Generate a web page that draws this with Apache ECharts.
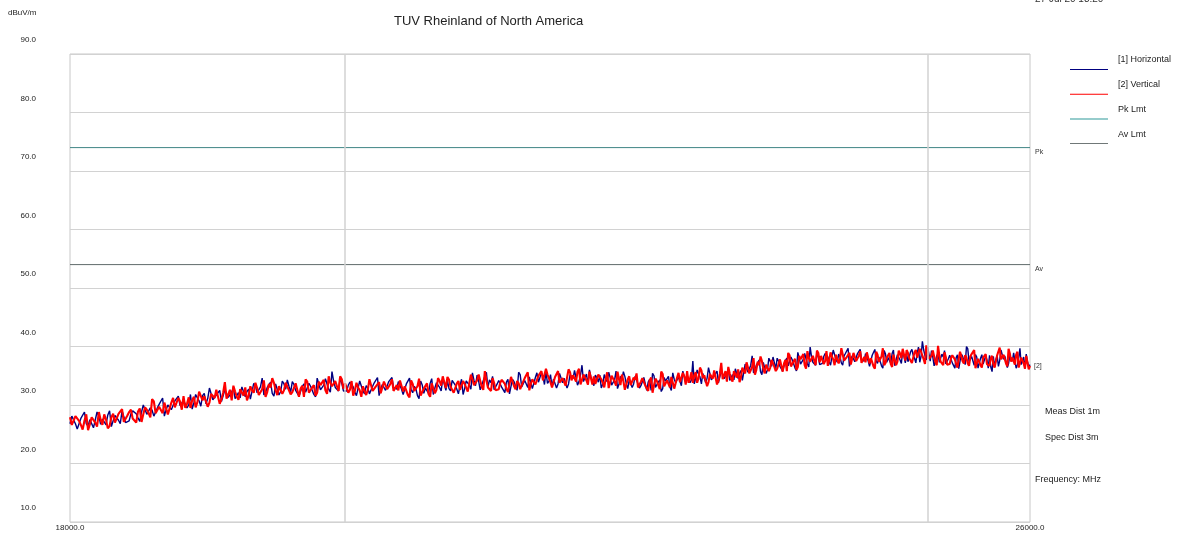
<!DOCTYPE html>
<html>
<head>
<meta charset="utf-8">
<script src="https://cdn.jsdelivr.net/npm/echarts@6/dist/echarts.min.js"></script>
<style>
html,body{margin:0;padding:0;background:#fff;}
#chart{width:1180px;height:533px;}
</style>
</head>
<body>
<div id="chart"></div>
<script>
// ---- data ----
const freqStart = 18000;      // MHz
const freqStop = 26000;       // MHz
const freqStep = 12.5;        // MHz sweep step
const yTicks = [10, 20, 30, 40, 50, 60, 70, 80, 90];
const xTickLabels = [18000, 26000];
const xGridFreqs = [20000, 25000];
const pkLimit = [74, 74];
const avLimit = [54, 54];

const horizontalVals = [
26.8,28.1,28.2,26.8,25.9,25.8,27.7,28.0,28.8,26.8,26.4,27.5,27.3,26.1,25.8,28.8,28.1,26.7,27.6,27.5,26.6,28.3,29.0,26.3,27.3,28.2,28.3,27.4,26.8,29.0,29.0,27.0,
27.0,27.3,28.5,29.0,29.2,28.5,27.8,27.2,28.8,30.0,30.1,28.4,28.1,29.5,29.1,28.1,27.9,29.5,30.1,30.4,31.2,28.1,29.2,30.0,30.1,29.2,29.0,30.7,31.0,31.5,29.9,29.6,
30.8,31.0,29.5,30.0,31.8,29.3,30.4,31.8,31.2,30.7,29.8,31.6,32.0,30.2,31.1,32.9,33.0,30.9,30.8,31.7,31.7,32.5,30.6,30.5,32.6,32.3,31.3,31.5,32.2,33.0,31.1,31.0,
32.1,31.2,33.1,32.9,31.4,32.3,32.7,31.0,30.8,33.7,33.3,32.1,32.2,33.1,34.6,31.7,32.1,33.0,33.2,33.9,32.0,31.5,33.6,33.3,31.7,32.3,34.1,33.6,32.7,34.3,33.2,32.2,
34.0,33.5,32.5,32.3,31.5,31.3,33.2,33.6,32.2,32.4,33.7,33.2,33.1,31.8,31.4,34.6,33.6,32.6,32.9,33.4,34.5,34.2,32.7,32.2,35.7,34.1,33.0,33.2,32.4,34.6,33.7,32.4,
32.1,32.4,33.4,33.9,33.8,33.1,32.2,31.6,32.9,34.1,34.1,32.4,31.9,33.3,32.9,31.9,31.6,33.2,33.8,34.1,34.7,31.6,32.7,33.5,33.4,32.5,32.3,34.0,34.2,34.7,33.0,32.7,
32.7,34.0,34.1,32.7,31.8,31.7,33.6,33.9,34.6,32.6,32.1,33.2,32.8,31.6,31.1,34.1,33.4,32.0,32.9,32.8,32.0,33.7,34.5,31.8,32.9,33.8,33.9,33.0,32.4,34.6,34.5,32.5,
34.1,32.8,32.4,34.2,34.4,33.4,32.7,31.9,33.3,34.4,31.8,32.8,34.1,33.9,33.4,32.7,35.5,34.2,33.3,35.1,34.1,32.6,32.7,34.2,34.5,35.6,33.0,34.3,33.8,34.9,32.6,32.9,
33.6,34.2,34.5,33.0,32.7,32.1,33.9,34.4,31.9,33.2,34.4,34.0,33.2,32.5,35.6,35.2,33.1,33.2,34.2,34.0,33.0,34.8,34.7,32.8,32.9,34.7,35.5,33.9,34.2,35.5,34.9,33.5,
35.7,33.7,34.1,35.2,33.1,34.4,34.7,32.9,33.6,35.4,35.1,33.8,34.6,34.9,32.9,33.6,35.2,35.0,34.5,35.9,36.0,33.4,34.0,35.1,36.8,34.0,34.0,35.3,33.5,36.0,34.8,33.9,
33.3,35.1,34.7,33.9,35.1,32.9,33.6,35.2,34.4,34.0,35.6,34.7,33.4,33.2,34.3,35.8,32.8,33.6,34.9,34.3,35.7,34.9,33.6,32.8,34.3,34.6,33.0,33.6,34.9,35.1,33.6,32.9,
33.3,33.1,34.7,34.6,32.5,33.9,34.4,32.5,35.4,35.0,33.0,33.3,33.9,34.3,32.3,32.8,34.7,34.1,34.1,34.9,33.1,32.5,35.5,34.4,33.8,33.5,34.8,35.0,33.3,35.8,35.5,33.9,
35.1,35.3,33.8,34.3,37.5,33.6,34.6,36.0,35.3,34.8,33.6,35.4,35.6,33.8,34.6,36.4,36.4,34.3,34.1,35.0,35.0,35.8,33.8,33.7,35.9,35.6,34.5,34.7,35.4,36.2,34.2,34.1,
35.2,34.3,36.2,36.0,34.5,35.4,35.9,34.2,34.1,37.0,36.8,35.6,35.9,36.8,38.4,35.5,35.9,36.8,37.0,37.7,35.7,35.2,37.3,37.0,35.4,36.0,38.0,37.5,36.6,38.2,37.2,36.2,
38.0,37.5,36.6,36.4,35.8,35.6,37.6,38.0,36.7,36.9,38.2,37.7,37.6,36.3,35.8,39.0,38.0,37.0,37.3,37.8,38.8,38.5,37.0,36.5,39.9,38.3,37.3,37.5,36.8,39.0,38.2,36.9,
36.8,37.1,38.3,38.8,38.9,38.2,37.4,36.8,38.2,39.4,39.5,37.8,37.3,38.7,38.2,37.2,36.8,38.4,38.8,39.1,39.7,36.6,37.6,38.4,38.3,37.4,37.1,38.8,39.0,39.5,37.8,37.5,
37.5,38.8,38.9,37.5,36.6,36.5,38.5,38.8,39.5,37.5,37.1,38.2,37.9,36.7,36.3,39.3,38.7,37.3,38.1,38.0,37.1,38.8,39.4,36.7,37.7,38.6,38.6,37.7,37.1,39.3,39.2,37.2,
38.7,37.4,37.3,39.1,39.5,38.5,38.0,37.2,38.8,39.9,37.3,38.3,40.9,39.4,38.4,37.7,40.0,38.7,37.5,39.3,38.2,36.7,36.9,38.4,38.8,37.3,37.4,38.7,38.2,39.3,37.0,37.3,
37.9,38.5,38.7,37.2,36.9,36.3,38.1,38.6,36.2,37.5,38.7,38.3,37.6,36.9,40.0,39.6,37.4,37.5,38.3,38.1,36.8,38.6,38.2,36.3,36.2,38.0,38.6,37.0,37.1,38.4,37.7,36.3,
38.5,36.5,35.7,38.3,36.5,37.8,38.4,36.6,37.6,39.4,39.1,37.8,38.4,38.7,36.4,37.1,38.4,38.2,37.5,38.9,38.9,36.3,36.9,38.0,39.7,36.9,36.9,38.2,36.2,38.7,37.4,36.5,
36.9
];

const verticalVals = [
27.9,26.6,26.3,28.1,28.3,27.3,26.6,25.8,27.3,28.4,25.7,26.7,27.9,27.7,27.0,26.3,28.8,27.5,26.6,28.4,27.5,26.0,26.4,27.9,28.5,27.0,27.2,28.5,28.2,29.3,27.1,27.4,
28.2,28.8,29.2,27.7,27.6,27.0,28.9,29.4,27.1,28.4,29.6,29.2,28.6,27.9,31.0,30.6,28.6,28.7,29.7,29.5,28.6,30.4,30.3,28.4,28.6,30.4,31.2,29.6,29.9,31.2,30.6,29.2,
31.5,29.5,30.2,31.3,29.5,30.8,31.4,29.6,30.5,32.3,32.1,30.8,31.5,31.8,29.7,30.4,31.9,31.7,31.2,32.6,32.8,30.2,31.0,32.1,33.9,31.1,31.3,32.6,30.8,33.3,32.3,31.4,
30.9,32.7,32.4,31.6,33.0,30.8,31.6,33.2,32.5,32.1,33.8,32.9,31.7,31.5,32.7,34.2,31.4,32.2,33.6,33.0,34.6,33.8,32.5,31.7,33.2,33.5,31.9,32.5,33.8,34.0,32.5,31.8,
32.2,32.0,33.7,33.6,31.4,32.8,33.3,31.4,34.4,34.0,32.1,32.4,33.0,33.4,31.6,32.1,34.0,33.4,33.5,34.3,32.5,31.9,34.9,33.8,33.2,32.9,34.1,34.3,32.4,34.9,34.4,32.8,
33.7,33.9,32.1,32.6,34.1,31.6,32.4,33.8,33.0,32.5,31.4,33.2,33.5,31.7,32.6,34.4,34.5,32.4,32.3,33.2,33.1,33.9,32.0,31.9,34.0,33.7,32.7,32.9,33.6,34.4,32.4,32.3,
33.4,32.5,34.2,34.0,32.3,33.2,33.4,31.7,31.3,34.2,33.6,32.4,32.3,33.2,34.5,31.6,31.9,32.8,33.0,33.7,31.9,31.4,33.7,33.4,32.0,32.6,34.6,34.1,33.3,34.9,33.9,32.9,
34.8,34.3,33.1,32.9,32.1,31.9,33.7,34.1,32.6,32.8,34.1,33.6,33.6,32.3,32.0,35.2,34.4,33.4,33.7,34.2,35.2,34.9,33.1,32.6,35.8,34.2,33.0,33.2,32.4,34.6,33.8,32.5,
32.4,32.7,33.8,34.3,34.3,33.6,32.8,32.2,33.6,34.8,34.9,33.2,32.7,34.1,33.7,32.7,32.4,34.0,34.6,34.9,35.6,32.5,33.6,34.4,34.4,33.5,33.3,35.0,35.3,35.8,34.2,33.9,
36.2,35.2,35.3,33.9,33.0,32.9,34.8,35.1,35.8,33.8,33.5,34.6,34.5,33.3,33.1,36.1,35.6,34.2,35.1,35.0,34.0,35.7,36.2,33.5,34.3,35.2,35.1,34.2,33.5,35.7,35.5,33.5,
34.9,33.6,33.4,35.2,35.4,34.4,33.8,33.0,34.5,35.6,32.9,33.9,35.0,34.8,34.0,33.3,35.7,34.4,33.4,35.2,34.1,32.6,32.9,34.4,34.9,33.4,33.4,34.7,34.3,35.4,33.0,33.3,
34.0,34.6,34.8,33.3,33.0,32.4,34.2,34.7,32.1,33.4,34.5,34.1,33.4,32.7,35.7,35.3,33.2,33.3,34.2,34.0,33.0,34.8,34.7,32.8,32.9,34.7,35.5,33.9,34.2,35.5,34.9,33.5,
35.8,33.8,34.5,35.6,33.8,35.1,35.6,33.8,34.6,36.4,35.9,34.6,35.1,35.4,33.2,33.9,35.3,35.1,34.5,35.9,36.1,33.5,34.2,35.3,37.2,34.4,34.5,35.8,34.0,36.5,35.4,34.5,
34.0,35.8,35.5,34.7,36.1,33.9,34.8,36.4,35.8,35.4,37.3,36.4,35.4,35.2,36.5,38.0,35.2,36.0,37.4,36.8,38.3,37.5,36.2,35.4,36.9,37.2,35.8,36.4,37.7,37.9,36.5,35.8,
36.2,36.0,37.8,37.7,35.7,37.1,37.7,35.8,38.9,38.5,36.6,36.9,37.5,37.9,36.0,36.5,38.4,37.8,37.9,38.7,36.8,36.2,39.2,38.1,37.4,37.1,38.4,38.6,36.8,39.3,38.9,37.3,
38.4,38.6,37.0,37.5,39.2,36.7,37.6,39.0,38.3,37.8,36.8,38.6,38.9,37.1,37.9,39.7,39.7,37.6,37.3,38.2,38.1,38.9,36.9,36.8,38.9,38.6,37.5,37.7,38.4,39.2,37.2,37.1,
38.2,37.3,39.0,38.8,37.1,38.0,38.3,36.6,36.2,39.1,38.6,37.4,37.4,38.3,39.7,36.8,37.2,38.1,38.2,38.9,37.0,36.5,38.6,38.3,36.8,37.4,39.3,38.8,38.0,39.6,38.6,37.6,
39.4,38.9,38.0,37.8,37.2,37.0,39.0,39.4,38.1,38.3,39.6,39.1,39.1,37.8,37.0,40.2,38.9,37.9,37.9,38.4,39.3,39.0,37.3,36.8,40.1,38.5,37.4,37.6,36.8,39.0,38.2,36.9,
36.7,37.0,38.0,38.5,38.5,37.8,37.0,36.4,37.9,39.1,39.2,37.5,37.1,38.5,38.1,37.1,36.7,38.3,38.7,39.0,39.4,36.3,37.1,37.9,37.7,36.8,36.4,38.1,38.2,38.7,37.0,36.7,
36.7,38.0,38.4,37.0,36.4,36.3,38.5,38.8,39.8,37.8,37.5,38.6,38.3,37.1,36.6,39.6,38.8,37.4,38.1,38.0,36.9,38.6,39.1,36.4,37.2,38.1,38.0,37.1,36.2,38.4,38.1,36.1,
36.7
];

// ---- build ----
const freqs = horizontalVals.map((_, i) => freqStart + i * freqStep);
const hData = horizontalVals.map((v, i) => [freqs[i], v]);
const vData = verticalVals.map((v, i) => [freqs[i], v]);
const pkData = [[freqStart, pkLimit[0]], [freqStop, pkLimit[1]]];
const avData = [[freqStart, avLimit[0]], [freqStop, avLimit[1]]];

const FONT = 'Liberation Sans, Arial, sans-serif';
const legendIcon = 'path://M0,0L38,0L38,0Z M0,19L38,19L38,20L0,20Z';

const chart = echarts.init(document.getElementById('chart'), null, {renderer: 'canvas'});
chart.setOption({
  animation: false,
  backgroundColor: '#ffffff',
  textStyle: {fontFamily: FONT},
  title: {
    text: 'TUV Rheinland of North America',
    left: 389, top: 10,
    textStyle: {fontSize: 13, fontWeight: 'normal', color: '#222', fontFamily: FONT}
  },
  legend: {
    orient: 'vertical',
    left: 1065, top: 45,
    itemWidth: 38, itemHeight: 20, itemGap: 4.7,
    selectedMode: false,
    itemStyle: {borderWidth: 0},
    textStyle: {fontSize: 9, color: '#222', padding: [0, 0, 0, 5], fontFamily: FONT},
    data: [
      {name: '[1] Horizontal', icon: legendIcon},
      {name: '[2] Vertical', icon: legendIcon},
      {name: 'Pk Lmt', icon: legendIcon},
      {name: 'Av Lmt', icon: legendIcon}
    ]
  },
  grid: {
    left: 70, right: 150, top: 54, bottom: 11,
    show: true, borderColor: '#c8c8c8', borderWidth: 1, backgroundColor: 'transparent'
  },
  xAxis: {
    type: 'log',
    min: freqStart, max: freqStop,
    axisLine: {show: false},
    axisTick: {show: false},
    splitLine: {show: false},
    minorTick: {show: false},
    axisLabel: {
      show: true, margin: 2, fontSize: 8, color: '#222', fontFamily: FONT,
      showMinLabel: true, showMaxLabel: true, hideOverlap: false,
      formatter: function (v) {
        for (const t of xTickLabels) { if (Math.abs(v - t) < 1) return t.toFixed(1); }
        return '';
      }
    }
  },
  yAxis: {
    type: 'value',
    min: yTicks[0], max: yTicks[yTicks.length - 1], interval: 10,
    axisLine: {show: false},
    axisTick: {show: false},
    splitLine: {show: true, lineStyle: {color: '#d2d2d2', width: 1}},
    axisLabel: {
      margin: 34, fontSize: 8, color: '#222', fontFamily: FONT,
      verticalAlign: 'bottom', padding: [0, 0, 10, 0],
      formatter: function (v) { return v.toFixed(1); }
    }
  },
  graphic: [
    {type: 'text', left: 8, top: 9, style: {text: 'dBuV/m', fontSize: 8, fill: '#222', fontFamily: FONT}},
    {type: 'text', left: 1035, top: -6, style: {text: '27 Jul 20 18:20 --', fontSize: 10, fill: '#333', fontFamily: FONT}},
    {type: 'text', left: 1045, top: 407, style: {text: 'Meas Dist 1m', fontSize: 9, fill: '#222', fontFamily: FONT}},
    {type: 'text', left: 1045, top: 433, style: {text: 'Spec Dist 3m', fontSize: 9, fill: '#222', fontFamily: FONT}},
    {type: 'text', left: 1035, top: 475, style: {text: 'Frequency: MHz', fontSize: 9, fill: '#222', fontFamily: FONT}}
  ],
  series: [
    {
      name: 'Av Lmt', type: 'line', data: avData, showSymbol: false, symbol: 'none',
      color: '#707878', lineStyle: {color: '#5f6b6b', width: 1}, silent: true, z: 2,
      endLabel: {show: true, formatter: 'Av', fontSize: 7, color: '#333', offset: [-3, 4], fontFamily: FONT},
      markLine: {
        silent: true, symbol: 'none', label: {show: false},
        lineStyle: {color: '#d2d2d2', width: 1.5, type: 'solid'},
        data: xGridFreqs.map(f => ({xAxis: f}))
      }
    },
    {
      name: 'Pk Lmt', type: 'line', data: pkData, showSymbol: false, symbol: 'none',
      color: '#2f9999', lineStyle: {color: '#3f8585', width: 1}, silent: true, z: 2,
      endLabel: {show: true, formatter: 'Pk', fontSize: 7, color: '#333', offset: [-3, 4], fontFamily: FONT}
    },
    {
      name: '[1] Horizontal', type: 'line', data: hData, showSymbol: false, symbol: 'none',
      sampling: null, color: '#000080', lineStyle: {color: '#000080', width: 1.4}, z: 3
    },
    {
      name: '[2] Vertical', type: 'line', data: vData, showSymbol: false, symbol: 'none',
      sampling: null, color: '#ff0000', lineStyle: {color: '#ff0000', width: 2.1}, z: 4,
      endLabel: {show: true, formatter: '[2]', fontSize: 7, color: '#333', offset: [-4, 0], fontFamily: FONT}
    }
  ]
});
</script>
</body>
</html>
